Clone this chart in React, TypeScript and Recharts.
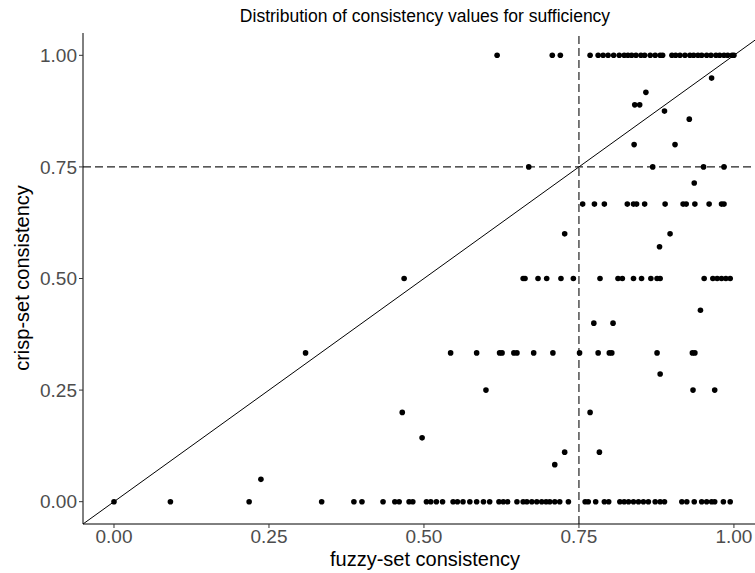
import { ScatterChart, Scatter, XAxis, YAxis, ReferenceLine } from "recharts"

// fuzzy-set consistency of the rows sitting on a given crisp-set value
const crispOne = [0.618, 0.707, 0.72, 0.768, 0.781, 0.789, 0.797, 0.806, 0.815, 0.823, 0.829, 0.835, 0.842, 0.85, 0.856, 0.865, 0.873, 0.881, 0.885, 0.9, 0.906, 0.913, 0.921, 0.929, 0.935, 0.942, 0.948, 0.956, 0.963, 0.971, 0.977, 0.984, 0.99, 0.997, 1.0]
const crispThreeQuarters = [0.669, 0.869, 0.951, 0.984]
const crispTwoThirds = [0.756, 0.775, 0.791, 0.828, 0.838, 0.843, 0.856, 0.889, 0.918, 0.923, 0.937, 0.96, 0.98, 0.984]
const crispHalf = [0.468, 0.66, 0.663, 0.684, 0.698, 0.721, 0.741, 0.784, 0.813, 0.82, 0.838, 0.851, 0.866, 0.876, 0.881, 0.952, 0.966, 0.973, 0.98, 0.987, 0.994]
const crispThird = [0.309, 0.543, 0.585, 0.622, 0.626, 0.645, 0.65, 0.677, 0.708, 0.751, 0.781, 0.799, 0.803, 0.876, 0.933, 0.937]
const crispZero = [0, 0.091, 0.218, 0.335, 0.387, 0.4, 0.434, 0.453, 0.46, 0.476, 0.482, 0.504, 0.511, 0.52, 0.53, 0.547, 0.554, 0.563, 0.574, 0.585, 0.596, 0.606, 0.621, 0.628, 0.635, 0.65, 0.66, 0.666, 0.674, 0.682, 0.69, 0.697, 0.703, 0.711, 0.719, 0.733, 0.76, 0.765, 0.777, 0.791, 0.798, 0.816, 0.823, 0.83, 0.838, 0.846, 0.854, 0.862, 0.873, 0.881, 0.888, 0.916, 0.924, 0.936, 0.948, 0.956, 0.964, 0.969, 0.983, 0.994]

// the scattered ones
const otherFuzzy = [0.964, 0.858, 0.84, 0.848, 0.888, 0.928, 0.839, 0.905, 0.936, 0.727, 0.897, 0.88, 0.946, 0.774, 0.805, 0.881, 0.6, 0.934, 0.969, 0.768, 0.465, 0.497, 0.727, 0.783, 0.711, 0.237]
const otherCrisp = [0.949, 0.917, 0.889, 0.889, 0.875, 0.857, 0.8, 0.8, 0.714, 0.6, 0.6, 0.571, 0.429, 0.4, 0.4, 0.286, 0.25, 0.25, 0.25, 0.2, 0.2, 0.143, 0.111, 0.111, 0.083, 0.05]

const ticks = [0, 0.25, 0.5, 0.75, 1]
const cutoff = 0.75
const xDomain = [-0.05, 1.034]
const yDomain = [-0.05, 1.05]

const rows: [number[], number][] = [
  [crispOne, 1],
  [crispThreeQuarters, 0.75],
  [crispTwoThirds, 2 / 3],
  [crispHalf, 0.5],
  [crispThird, 1 / 3],
  [crispZero, 0],
]

const data = [
  ...rows.flatMap(([xs, y]) => xs.map((x) => ({ fuzzy: x, crisp: y }))),
  ...otherFuzzy.map((x, i) => ({ fuzzy: x, crisp: otherCrisp[i] })),
]

const font = "'Liberation Sans', Arial, sans-serif"

const Dot = (props: any) => <circle cx={props.cx} cy={props.cy} r={2.8} fill="#000" />

export default function App() {
  return (
    <div style={{ position: "absolute", left: 0, top: 0, width: 755, height: 573, background: "#fff", fontFamily: font, overflow: "hidden" }}>
      <div style={{ position: "absolute", top: 6, left: 0, width: 850, textAlign: "center", fontSize: 17.5, color: "#000" }}>
        Distribution of consistency values for sufficiency
      </div>
      <div style={{ position: "absolute", top: 548, left: 0, width: 850, textAlign: "center", fontSize: 20, color: "#000" }}>
        fuzzy-set consistency
      </div>
      <div
        style={{
          position: "absolute",
          left: 22,
          top: 278,
          transform: "translate(-50%, -50%) rotate(-90deg)",
          whiteSpace: "nowrap",
          fontSize: 20,
          color: "#000",
        }}
      >
        crisp-set consistency
      </div>
      <ScatterChart width={755} height={573} margin={{ top: 33, right: 0, bottom: 0, left: 0 }} style={{ fontFamily: font }}>
        <XAxis
          type="number"
          dataKey="fuzzy"
          domain={xDomain}
          allowDataOverflow
          ticks={ticks}
          tickFormatter={(v) => v.toFixed(2)}
          height={49}
          stroke="#000"
          tick={{ fill: "#4D4D4D", fontSize: 19 }}
          tickLine={{ stroke: "#333" }}
          tickSize={4}
          tickMargin={2}
        />
        <YAxis
          type="number"
          dataKey="crisp"
          domain={yDomain}
          allowDataOverflow
          ticks={ticks}
          tickFormatter={(v) => v.toFixed(2)}
          width={83}
          stroke="#000"
          tick={{ fill: "#4D4D4D", fontSize: 19 }}
          tickLine={{ stroke: "#333" }}
          tickSize={4}
          tickMargin={2}
        />
        <ReferenceLine y={cutoff} stroke="#222" strokeDasharray="8 4" strokeWidth={1.2} />
        <ReferenceLine x={cutoff} stroke="#222" strokeDasharray="8 4" strokeWidth={1.2} />
        <ReferenceLine
          segment={[
            { x: xDomain[0], y: xDomain[0] },
            { x: xDomain[1], y: xDomain[1] },
          ]}
          stroke="#000"
          strokeWidth={1}
        />
        <Scatter data={data} shape={Dot} isAnimationActive={false} />
      </ScatterChart>
    </div>
  )
}
